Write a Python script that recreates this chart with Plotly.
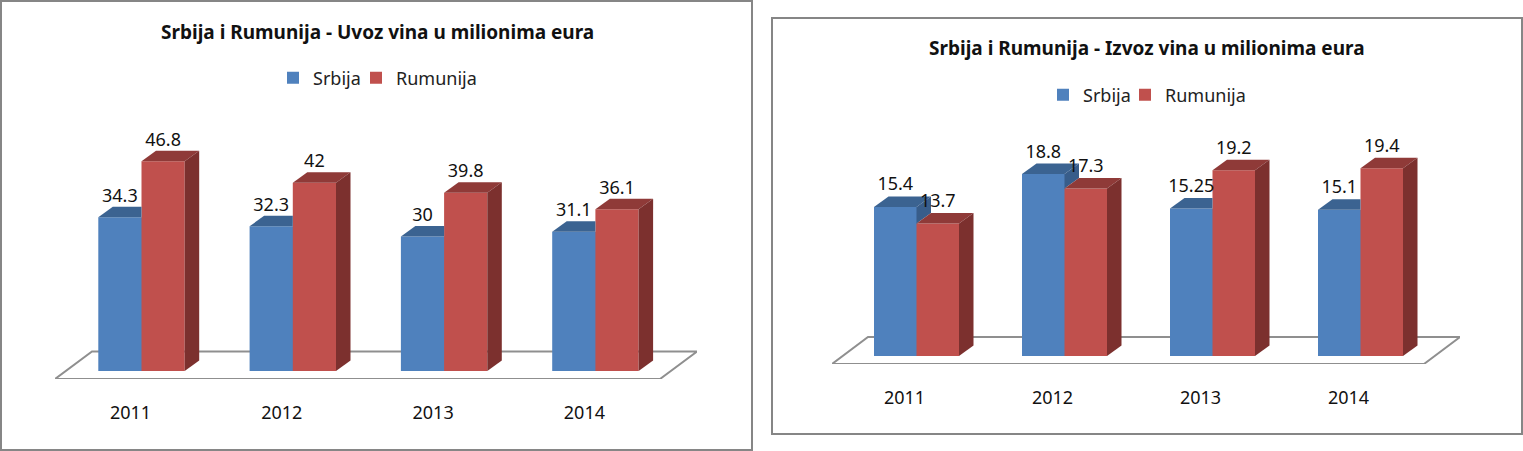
import plotly.graph_objects as go

years = ["2011", "2012", "2013", "2014"]
uvoz_srbija = [34.3, 32.3, 30, 31.1]
uvoz_rumunija = [46.8, 42, 39.8, 36.1]
izvoz_srbija = [15.4, 18.8, 15.25, 15.1]
izvoz_rumunija = [13.7, 17.3, 19.2, 19.4]

W, H = 1523, 451
FONT = "Noto Sans"
BLUE, BLUE_TOP, BLUE_SIDE = "#4F81BD", "#3B6391", "#385D8A"
RED, RED_TOP, RED_SIDE = "#C0504D", "#8F3A38", "#7C302E"
GREY = "#8F8F8F"
DEPTH_X, DEPTH_Y = 14.5, 10.5  # px

panels = [
    dict(title="Srbija i Rumunija - Uvoz vina u milionima eura", title_xy=(377, 32),
         a=uvoz_srbija, b=uvoz_rumunija, first=141.5, step=151.3, bw=43.2, base=371, scale=4.48,
         floor=(55, 660, 379, 351.5, 37), top=125, xa="x", ya="y",
         legends=(("legend", 273), ("legend2", 356)), legend_y=78, tick_shift=-11, label_off=20),
    dict(title="Srbija i Rumunija - Izvoz vina u milionima eura", title_xy=(1147, 48),
         a=izvoz_srbija, b=izvoz_rumunija, first=916.5, step=148.0, bw=42.5, base=356, scale=9.68,
         floor=(832, 1424, 364, 337, 36), top=125, xa="x2", ya="y2",
         legends=(("legend3", 1043), ("legend4", 1125)), legend_y=95, tick_shift=-12, label_off=21),
]

fig = go.Figure()
shapes, annotations = [], []
layout = {}


def poly(xs, ys, color, xa, ya):
    fig.add_trace(go.Scatter(x=xs + xs[:1], y=ys + ys[:1], mode="lines", fill="toself", fillcolor=color,
                             line=dict(width=0, color=color), hoverinfo="skip", showlegend=False,
                             xaxis=xa, yaxis=ya))


for p in panels:
    xa, ya = p["xa"], p["ya"]
    fl, fr, fy, by, fdx = p["floor"]
    px_left, px_right = fl, fr + fdx
    to_x = lambda px: (px - p["first"]) / p["step"]
    to_y = lambda py: (p["base"] - py) / p["scale"]
    w = p["bw"] / p["step"]
    dx = DEPTH_X / p["step"]
    dy = DEPTH_Y / p["scale"]
    pos = list(range(len(years)))

    # floor (behind the bars)
    shapes.append(dict(type="path", layer="below", xref=xa, yref=ya,
                       path=f"M{to_x(fl)},{to_y(fy)} L{to_x(fr)},{to_y(fy)} L{to_x(fr + fdx)},{to_y(by)} "
                            f"L{to_x(fl + fdx)},{to_y(by)} Z",
                       line=dict(color=GREY, width=2), fillcolor="rgba(255,255,255,0)"))

    # the blue bar runs a hair under the red one so no light seam shows between them
    seam = 1 / p["step"]
    series = (("Srbija", p["a"], -w, w + seam, BLUE), ("Rumunija", p["b"], 0, w, RED))
    for (name, vals, off, wid, col), (leg, leg_x) in zip(series, p["legends"]):
        fig.add_trace(go.Bar(x=pos, y=vals, width=wid, offset=off, name=name, showlegend=True,
                             marker=dict(color=col, line=dict(width=0)),
                             xaxis=xa, yaxis=ya, legend=leg, hoverinfo="skip"))
        layout[leg] = dict(orientation="h", x=leg_x / W, y=1 - p["legend_y"] / H,
                           xanchor="left", yanchor="middle", bgcolor="rgba(0,0,0,0)",
                           font=dict(family=FONT, size=18, color="#222222"), itemclick=False)

    for i in pos:
        ha, hb = p["a"][i], p["b"][i]
        x0, xm, x1 = i - w, i, i + w
        if ha > hb:
            poly([x0, xm, xm + dx, x0 + dx], [ha, ha, ha + dy, ha + dy], BLUE_TOP, xa, ya)
            poly([xm, xm + dx, xm + dx, xm], [hb, hb + dy, ha + dy, ha], BLUE_SIDE, xa, ya)
        else:
            poly([x0, xm, xm, x0 + dx], [ha, ha, ha + dy, ha + dy], BLUE_TOP, xa, ya)
        poly([xm, x1, x1 + dx, xm + dx], [hb, hb, hb + dy, hb + dy], RED_TOP, xa, ya)
        poly([x1, x1 + dx, x1 + dx, x1], [0, dy, hb + dy, hb], RED_SIDE, xa, ya)

    off_y = p["label_off"] / p["scale"]
    fig.add_trace(go.Scatter(x=[i - w / 2 for i in pos] + [i + w / 2 for i in pos],
                             y=[v + off_y for v in p["a"]] + [v + off_y for v in p["b"]],
                             text=[f"{v:g}" for v in p["a"]] + [f"{v:g}" for v in p["b"]],
                             mode="text", textposition="middle center",
                             textfont=dict(family=FONT, size=18, color="#111111"),
                             hoverinfo="skip", showlegend=False, xaxis=xa, yaxis=ya))

    sfx = xa[1:]
    layout[f"xaxis{sfx}"] = dict(domain=[px_left / W, px_right / W], range=[to_x(px_left), to_x(px_right)],
                                 anchor=ya, showgrid=False, zeroline=False, showline=False, ticks="",
                                 tickmode="array", tickvals=[i + p["tick_shift"] / p["step"] for i in pos],
                                 ticktext=years, ticklabelstandoff=21,
                                 tickfont=dict(family=FONT, size=18, color="#111111"))
    layout[f"yaxis{sfx}"] = dict(domain=[1 - fy / H, 1 - p["top"] / H], range=[to_y(fy), to_y(p["top"])],
                                 anchor=xa, visible=False)
    annotations.append(dict(text=f"<b>{p['title']}</b>", xref="paper", yref="paper",
                            x=p["title_xy"][0] / W, y=1 - p["title_xy"][1] / H,
                            xanchor="center", yanchor="middle", showarrow=False,
                            font=dict(family=FONT, size=19, color="#111111")))

for (l, t, r, b) in ((1, 1, 752, 450), (772, 18, 1522, 434)):
    shapes.append(dict(type="rect", xref="paper", yref="paper", layer="below",
                       x0=l / W, x1=r / W, y0=1 - t / H, y1=1 - b / H,
                       line=dict(color="#868686", width=2), fillcolor="rgba(0,0,0,0)"))

fig.update_layout(width=W, height=H, margin=dict(l=0, r=0, t=0, b=0), autosize=False,
                  paper_bgcolor="white", plot_bgcolor="rgba(0,0,0,0)", barmode="overlay",
                  shapes=shapes, annotations=annotations, **layout)
fig.write_html("out.html", config={"displayModeBar": False}, post_script="document.body.style.margin='0';")
